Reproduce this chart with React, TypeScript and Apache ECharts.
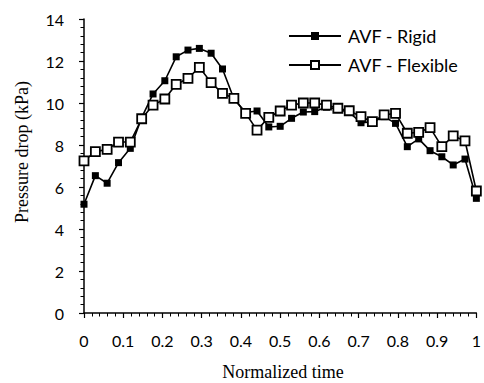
import React, { useEffect, useRef } from "react";
import * as echarts from "echarts";

const timeValues = [
  0, 0.029, 0.059, 0.088, 0.118, 0.147, 0.176, 0.206, 0.235, 0.265, 0.294, 0.324,
  0.353, 0.382, 0.412, 0.441, 0.471, 0.5, 0.529, 0.559, 0.588, 0.618, 0.647, 0.676,
  0.706, 0.735, 0.765, 0.794, 0.824, 0.853, 0.882, 0.912, 0.941, 0.971, 1,
];

const rigidValues = [
  5.18, 6.54, 6.18, 7.16, 7.84, 9.3, 10.43, 11.06, 12.2, 12.52, 12.6, 12.37,
  11.62, 10.2, 9.55, 9.62, 8.86, 8.89, 9.27, 9.57, 9.59, 9.8, 9.7, 9.55,
  9.06, 9.1, 9.35, 9.03, 7.92, 8.29, 7.73, 7.44, 7.05, 7.33, 5.46,
];

const flexibleValues = [
  7.24, 7.68, 7.79, 8.14, 8.14, 9.25, 9.9, 10.19, 10.89, 11.17, 11.7, 10.97,
  10.46, 10.22, 9.51, 8.71, 9.32, 9.62, 9.9, 10.0, 10.0, 9.9, 9.75, 9.63,
  9.35, 9.11, 9.43, 9.51, 8.56, 8.6, 8.83, 7.92, 8.43, 8.2, 5.81,
];

const seriesNames = ["AVF - Rigid", "AVF - Flexible"];
const xAxisTitle = "Normalized time";
const yAxisTitle = "Pressure drop (kPa)";

export default function App() {
  const ref = useRef<HTMLDivElement>(null);

  useEffect(() => {
    document.body.style.margin = "0";
    if (!ref.current) return;
    const chart = echarts.init(ref.current, null, { renderer: "svg" });
    const labelFont = "Lato, 'Open Sans', sans-serif";
    const serif = "'Liberation Serif', 'DejaVu Serif', serif";
    chart.setOption({
      animation: false,
      backgroundColor: "#fff",
      grid: { left: 84, top: 19, width: 396, height: 294, containLabel: false },
      legend: {
        orient: "vertical",
        left: 288,
        top: 27,
        padding: 0,
        itemWidth: 52,
        itemHeight: 10,
        itemGap: 11,
        textStyle: { fontFamily: labelFont, fontSize: 18, color: "#000", padding: [0, 0, 0, 2] },
        data: seriesNames,
      },
      xAxis: {
        type: "value",
        min: 0,
        max: 1,
        interval: 0.1,
        axisLine: { lineStyle: { color: "#000", width: 1.5 } },
        axisTick: { show: true, length: 5, lineStyle: { color: "#000", width: 1.2 } },
        minorTick: { show: true, splitNumber: 5, length: 3.5, lineStyle: { color: "#000", width: 1 } },
        axisLabel: { fontFamily: labelFont, fontSize: 16, color: "#000", margin: 19, showMaxLabel: true },
        splitLine: { show: false },
      },
      yAxis: {
        type: "value",
        min: 0,
        max: 14,
        interval: 2,
        axisLine: { show: true, lineStyle: { color: "#000", width: 1.5 } },
        axisTick: { show: true, length: 5, lineStyle: { color: "#000", width: 1.2 } },
        minorTick: { show: true, splitNumber: 5, length: 3.5, lineStyle: { color: "#000", width: 1 } },
        axisLabel: { fontFamily: labelFont, fontSize: 16, color: "#000", margin: 20 },
        splitLine: { show: false },
      },
      graphic: [
        {
          type: "text",
          x: 22,
          y: 152,
          rotation: Math.PI / 2,
          style: {
            text: yAxisTitle,
            fontFamily: serif,
            fontSize: 18,
            fill: "#000",
            textAlign: "center",
            textVerticalAlign: "middle",
          },
        },
        {
          type: "text",
          x: 283,
          y: 372,
          style: {
            text: xAxisTitle,
            fontFamily: serif,
            fontSize: 18,
            fill: "#000",
            textAlign: "center",
            textVerticalAlign: "middle",
          },
        },
      ],
      series: [
        {
          name: seriesNames[0],
          type: "line",
          data: timeValues.map((t, i) => [t, rigidValues[i]]),
          symbol: "rect",
          symbolSize: 7,
          lineStyle: { color: "#000", width: 1.6 },
          itemStyle: { color: "#000", borderColor: "#000", borderWidth: 0 },
          z: 2,
        },
        {
          name: seriesNames[1],
          type: "line",
          data: timeValues.map((t, i) => [t, flexibleValues[i]]),
          symbol: "rect",
          symbolSize: 9,
          lineStyle: { color: "#000", width: 1.6 },
          itemStyle: { color: "#fff", borderColor: "#000", borderWidth: 1.8 },
          z: 3,
        },
      ],
    });
    return () => chart.dispose();
  }, []);

  return <div ref={ref} style={{ width: 484, height: 383 }} />;
}
